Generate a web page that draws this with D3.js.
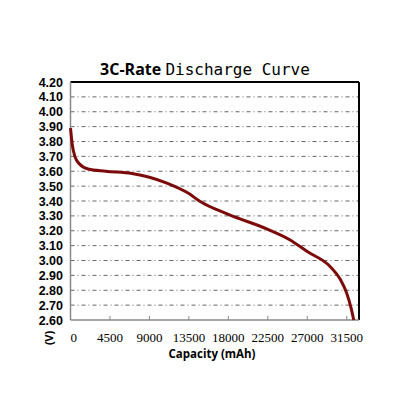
<!DOCTYPE html>
<html><head><meta charset="utf-8">
<script src="https://cdn.jsdelivr.net/npm/d3@7"></script>
<style>body{margin:0;background:#fff}</style>
</head><body><svg id="c"></svg>
<script>
// capacity (mAh) vs voltage (V)
const capacity = [0, 200, 500, 1000, 2000, 4000, 7000, 9000, 11000, 13500, 14700, 18000, 22500, 25000, 27000, 29600, 30800, 31500, 32000, 32300];
const voltage  = [3.89, 3.78, 3.70, 3.65, 3.615, 3.60, 3.585, 3.56, 3.52, 3.45, 3.40, 3.31, 3.21, 3.14, 3.06, 2.96, 2.87, 2.78, 2.68, 2.60];
const xTicks = [0, 4500, 9000, 13500, 18000, 22500, 27000, 31500];
const yTicks = [2.6, 2.7, 2.8, 2.9, 3.0, 3.1, 3.2, 3.3, 3.4, 3.5, 3.6, 3.7, 3.8, 3.9, 4.0, 4.1, 4.2];

const W = 416, H = 416;
const svg = d3.select('#c').attr('width', W).attr('height', H);

const x = d3.scaleLinear().domain([0, 32900]).range([70.5, 359]);
const y = d3.scaleLinear().domain([2.6, 4.2]).range([320, 82]);

// grid
svg.append('g').selectAll('line')
    .data(yTicks.filter(v => v > 2.6 && v < 4.2))
    .enter().append('line')
    .attr('x1', x(0)).attr('x2', x(32900))
    .attr('y1', d => y(d)).attr('y2', d => y(d))
    .attr('stroke', '#666').attr('stroke-width', 1)
    .attr('stroke-dasharray', '4,3,1,3');

// frame
svg.append('line').attr('x1', x(0)).attr('x2', x(32900)).attr('y1', y(4.2)).attr('y2', y(4.2))
    .attr('stroke', '#000').attr('stroke-width', 2);
svg.append('line').attr('x1', x(32900)).attr('x2', x(32900)).attr('y1', y(4.2)).attr('y2', y(2.6))
    .attr('stroke', '#000').attr('stroke-width', 2);
svg.append('line').attr('x1', x(0)).attr('x2', x(0)).attr('y1', y(4.2)).attr('y2', y(2.6))
    .attr('stroke', '#888').attr('stroke-width', 1.5);
svg.append('line').attr('x1', x(0)).attr('x2', x(32900)).attr('y1', y(2.6)).attr('y2', y(2.6))
    .attr('stroke', '#888').attr('stroke-width', 1.5);

// x ticks
svg.append('g').selectAll('line').data(xTicks.slice(1)).enter().append('line')
    .attr('x1', d => x(d)).attr('x2', d => x(d))
    .attr('y1', y(2.6)).attr('y2', y(2.6) - 4)
    .attr('stroke', '#888');

svg.append('g').selectAll('text').data(xTicks).enter().append('text')
    .attr('x', d => x(d)).attr('y', 342)
    .attr('text-anchor', d => d === 0 ? 'start' : 'middle')
    .style('font-family', '"Liberation Serif", serif').style('font-size', '13px')
    .text(d => d);

svg.append('g').selectAll('text').data(yTicks).enter().append('text')
    .attr('x', 63).attr('y', d => y(d) + 4.5)
    .attr('text-anchor', 'end')
    .style('font-family', '"Liberation Sans", Arial, sans-serif').style('font-weight', 'bold').style('font-size', '12.5px')
    .text(d => d.toFixed(2));

svg.append('text')
    .attr('transform', 'translate(53,338) rotate(-90)')
    .attr('text-anchor', 'middle')
    .style('font-family', '"Liberation Sans", Arial, sans-serif').style('font-weight', 'bold').style('font-size', '11px')
    .text('(V)');

svg.append('text')
    .attr('x', 212).attr('y', 358).attr('text-anchor', 'middle')
    .style('font-family', '"Open Sans", sans-serif').style('font-weight', 'bold').style('font-size', '11.5px')
    .text('Capacity (mAh)');

const title = svg.append('text').attr('x', 205).attr('y', 75).attr('text-anchor', 'middle');
title.append('tspan').text('3C-Rate ')
    .style('font-family', '"Open Sans", sans-serif').style('font-weight', 'bold').style('font-size', '16px');
title.append('tspan').text('Discharge Curve')
    .style('font-family', '"DejaVu Sans Mono", monospace').style('font-size', '16px');

// curve
const line = d3.line()
    .x(d => x(d[0])).y(d => y(d[1]))
    .curve(d3.curveMonotoneX);

svg.append('path')
    .datum(capacity.map((c, i) => [c, voltage[i]]))
    .attr('d', line)
    .attr('fill', 'none')
    .attr('stroke', '#7d0a0a')
    .attr('stroke-width', 3);
</script>
</body></html>
